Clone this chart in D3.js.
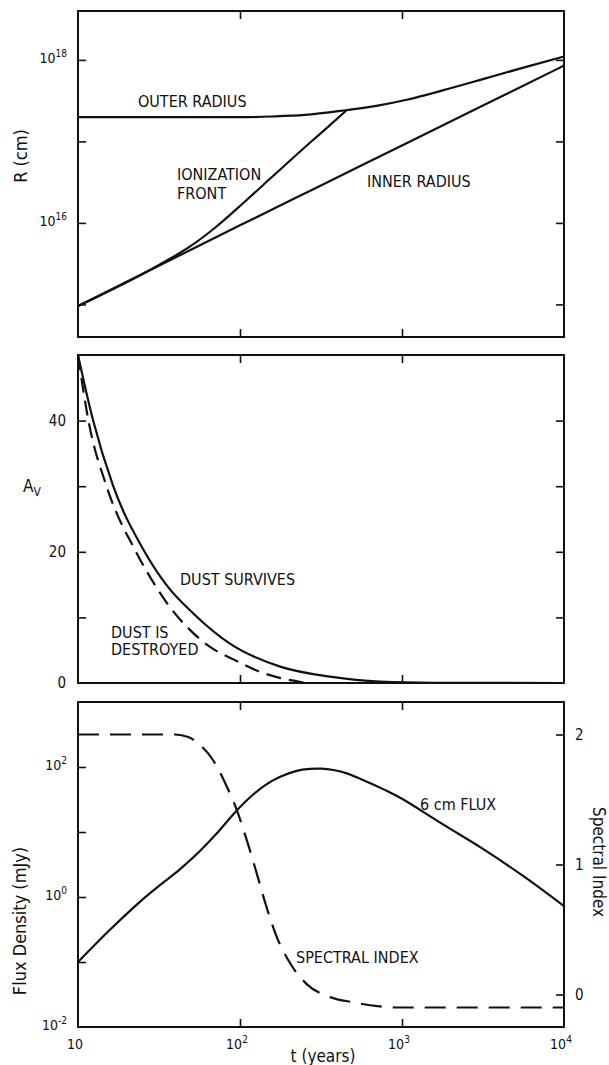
<!DOCTYPE html>
<html>
<head>
<meta charset="utf-8">
<script src="https://cdn.jsdelivr.net/npm/d3@7"></script>
<style>
  body { margin: 0; background: #fff; }
  svg { font-family: "DejaVu Sans", sans-serif; font-stretch: condensed; }
  text { fill: #111; }
</style>
</head>
<body>
<div id="container"></div>
<script>
// ---- data ----
// top panel: radius (cm) vs time (years)
const outer_t = [10, 32, 100, 158, 251, 457, 708, 1070, 1780, 3240, 5620, 10000];
const outer_r = [1.98e17, 1.98e17, 1.98e17, 2.02e17, 2.11e17, 2.43e17, 2.75e17, 3.24e17, 4.22e17, 5.89e17, 8.04e17, 1.10e18];
const front_t = [10, 32, 50, 71, 107, 155, 269, 355, 457];
const front_r = [9.55e14, 3.09e15, 5.25e15, 8.91e15, 1.82e16, 3.55e16, 9.55e16, 1.55e17, 2.43e17];
const inner_t = [10, 32, 100, 316, 1000, 3160, 10000];
const inner_r = [9.55e14, 3.02e15, 9.33e15, 2.88e16, 8.91e16, 2.75e17, 8.51e17];

// middle panel: A_v
const survive_t = [10, 12.4, 16.5, 25.1, 35.5, 51.5, 86.7, 177, 360, 731, 1580, 10000];
const survive_a = [50, 40, 30, 20.5, 14.8, 10.6, 6.0, 2.5, 0.96, 0.2, 0.03, 0];
const destroy_t = [10, 11.6, 15.0, 22.8, 29.9, 36.1, 49.1, 65.3, 91.0, 133, 178, 214, 269, 501];
const destroy_a = [50, 40, 30, 20, 14.9, 11.9, 8.1, 5.5, 3.6, 1.7, 0.75, 0.35, 0, 0];

// bottom panel: 6 cm flux (mJy) and spectral index
const flux_t = [10, 15.8, 24.2, 31.6, 42.7, 56.2, 70.8, 93.1, 115, 141, 177, 224, 270, 316, 377, 447, 551, 794, 1000, 1780, 3160, 5620, 10000];
const flux_v = [0.1, 0.316, 0.851, 1.48, 2.69, 5.01, 9.12, 20.0, 33.9, 51.3, 70.8, 87.1, 93.3, 94.4, 90.0, 81.3, 66.1, 43.7, 32.4, 13.2, 5.50, 2.09, 0.724];
const index_t = [10, 39.8, 47.9, 56.6, 68.4, 82.8, 95.5, 110, 127, 146, 169, 204, 258, 360, 501, 708, 1000, 10000];
const index_v = [2, 2, 1.98, 1.92, 1.80, 1.60, 1.42, 1.19, 0.93, 0.67, 0.44, 0.24, 0.08, -0.02, -0.06, -0.09, -0.1, -0.1];

// tick values
const x_ticks = [100, 1000];
const x_label_vals = [10, 100, 1000, 10000];
const x_label_exp = ['', '2', '3', '4'];
const r_ticks = [1e15, 1e16, 1e17, 1e18];
const r_labels = [[1e16, '16'], [1e18, '18']];
const a_ticks = [10, 20, 30, 40];
const a_labels = [0, 20, 40];
const f_ticks = [0.1, 1, 10, 100];
const f_labels = [[0.01, '-2'], [1, '0'], [100, '2']];
const s_ticks = [0, 1, 2];

// ---- layout ----
const W = 609, H = 1065;
const margin_left = 78, plot_right = 564;

const svg = d3.select('#container').append('svg')
  .attr('width', W).attr('height', H);

const x = d3.scaleLog().domain([10, 1e4]).range([margin_left, plot_right]);
const yR = d3.scaleLog().domain([Math.pow(10, 14.6), Math.pow(10, 18.6)]).range([337, 11]);
const yA = d3.scaleLinear().domain([0, 50]).range([683, 355]);
const yF = d3.scaleLog().domain([0.01, 1000]).range([1027, 702]);
const yS = d3.scaleLinear().domain([-0.25, 2.25]).range([1027, 702]);

const tickLen = 8;

function frame(yScale, leftTicks, rightTicks, rightScale) {
  const top = yScale.range()[1], bottom = yScale.range()[0];
  const g = svg.append('g');

  g.append('g').attr('transform', `translate(0,${bottom})`)
    .call(d3.axisBottom(x).tickValues(x_ticks).tickSize(-tickLen).tickSizeOuter(0).tickFormat(''));
  g.append('g').attr('transform', `translate(0,${top})`)
    .call(d3.axisTop(x).tickValues(x_ticks).tickSize(-tickLen).tickSizeOuter(0).tickFormat(''));
  g.append('g').attr('transform', `translate(${margin_left},0)`)
    .call(d3.axisLeft(yScale).tickValues(leftTicks).tickSize(-tickLen).tickSizeOuter(0).tickFormat(''));
  g.append('g').attr('transform', `translate(${plot_right},0)`)
    .call(d3.axisRight(rightScale || yScale).tickValues(rightTicks).tickSize(-tickLen).tickSizeOuter(0).tickFormat(''));

  g.selectAll('.domain').remove();
  g.selectAll('.tick line').attr('stroke', '#111').attr('stroke-width', 1.6);

  g.append('rect')
    .attr('x', margin_left).attr('y', top)
    .attr('width', plot_right - margin_left).attr('height', bottom - top)
    .attr('fill', 'none').attr('stroke', '#111').attr('stroke-width', 2);
}

frame(yR, r_ticks, r_ticks);
frame(yA, a_ticks, a_ticks);
frame(yF, f_ticks, s_ticks, yS);

// power-of-ten label
function powLabel(px, py, base, exp, anchor) {
  const t = svg.append('text')
    .attr('x', px).attr('y', py)
    .attr('text-anchor', anchor)
    .style('font-size', '14px');
  t.append('tspan').text(base);
  if (exp !== '') {
    t.append('tspan').attr('dy', -6).style('font-size', '10px').text(exp);
  }
  return t;
}

function plainText(px, py, str, size, anchor) {
  return svg.append('text')
    .attr('x', px).attr('y', py)
    .attr('text-anchor', anchor || 'start')
    .style('font-size', size + 'px')
    .text(str);
}

// tick labels
r_labels.forEach(d => powLabel(margin_left - 11, yR(d[0]) + 3, '10', d[1], 'end'));
a_labels.forEach(d => plainText(margin_left - 12, yA(d) + 5, d, 15, 'end'));
f_labels.forEach(d => powLabel(margin_left - 11, yF(d[0]) + 3, '10', d[1], 'end'));
s_ticks.forEach(d => plainText(plot_right + 11, yS(d) + 5, d, 15, 'start'));
x_label_vals.forEach((d, i) => powLabel(x(d) - 3, 1049, '10', x_label_exp[i], 'middle'));

// axis titles
svg.append('text')
  .attr('transform', `translate(27,156) rotate(-90)`)
  .attr('text-anchor', 'middle')
  .style('font-size', '18px')
  .text('R (cm)');

const av = svg.append('text').attr('x', 23).attr('y', 492).style('font-size', '17px');
av.append('tspan').text('A');
av.append('tspan').attr('dy', 4).style('font-size', '12px').text('V');

svg.append('text')
  .attr('transform', `translate(26,921) rotate(-90)`)
  .attr('text-anchor', 'middle')
  .style('font-size', '18px')
  .text('Flux Density (mJy)');

svg.append('text')
  .attr('transform', `translate(593,862) rotate(90)`)
  .attr('text-anchor', 'middle')
  .style('font-size', '17px')
  .text('Spectral Index');

plainText(323, 1062, 't (years)', 17, 'middle');

// curve labels
plainText(138, 107, 'OUTER RADIUS', 16);
plainText(177, 180, 'IONIZATION', 16);
plainText(177, 199, 'FRONT', 16);
plainText(367, 187, 'INNER RADIUS', 16);
plainText(180, 585, 'DUST SURVIVES', 16);
plainText(111, 638, 'DUST IS', 16);
plainText(111, 655, 'DESTROYED', 16);
plainText(420, 810, '6 cm FLUX', 16);
plainText(296, 963, 'SPECTRAL INDEX', 16);

// ---- curves ----
function drawCurve(ts, vs, yScale, dash, curve) {
  const pts = ts.map((t, i) => [t, vs[i]]);
  const line = d3.line()
    .x(d => x(d[0]))
    .y(d => yScale(d[1]))
    .curve(curve || d3.curveMonotoneX);
  svg.append('path')
    .datum(pts)
    .attr('d', line)
    .attr('fill', 'none')
    .attr('stroke', '#111')
    .attr('stroke-width', 2.2)
    .attr('stroke-dasharray', dash || null);
}

drawCurve(outer_t, outer_r, yR);
drawCurve(front_t, front_r, yR);
drawCurve(inner_t, inner_r, yR);

drawCurve(survive_t, survive_a, yA);
drawCurve(destroy_t, destroy_a, yA, '15,8');

drawCurve(flux_t, flux_v, yF, null, d3.curveCatmullRom.alpha(0.5));
drawCurve(index_t, index_v, yS, '21,11');
</script>
</body>
</html>
